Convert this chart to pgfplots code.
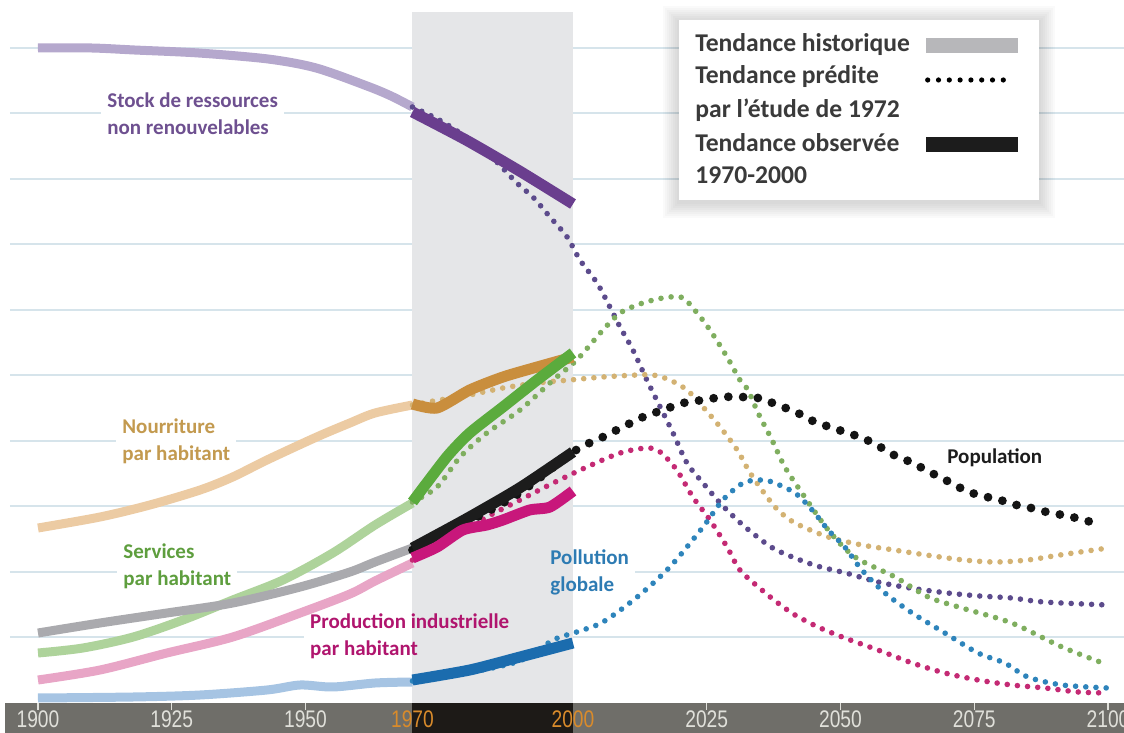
\documentclass[border=0pt]{standalone}
\usepackage{pgfplots}
\pgfplotsset{compat=1.18}
\usepackage{fontspec}
\setmainfont{Carlito}
\newfontfamily\tickfont[FakeStretch=0.8]{Liberation Sans}

\definecolor{gridc}{HTML}{D6E4EB}
\definecolor{bandc}{HTML}{E5E6E8}
\definecolor{stripc}{HTML}{6F6E69}
\definecolor{stripd}{HTML}{1D1A17}
\definecolor{tickc}{HTML}{E0E0DA}
\definecolor{ticko}{HTML}{D98B2B}
\definecolor{legt}{HTML}{3A3A3A}

\definecolor{stockH}{HTML}{B5A8CD}\definecolor{stockO}{HTML}{6A3E8E}\definecolor{stockP}{HTML}{5C4B8C}
\definecolor{foodH}{HTML}{ECCBA3}\definecolor{foodO}{HTML}{C98E3D}\definecolor{foodP}{HTML}{D3B273}
\definecolor{servH}{HTML}{AED39B}\definecolor{servO}{HTML}{5BAB3D}\definecolor{servP}{HTML}{7FAE5F}
\definecolor{popH}{HTML}{AAAAAE}\definecolor{popO}{HTML}{1C1C1C}\definecolor{popP}{HTML}{141414}
\definecolor{prodH}{HTML}{E8A5C6}\definecolor{prodO}{HTML}{C8177B}\definecolor{prodP}{HTML}{C42A74}
\definecolor{pollH}{HTML}{A6C4E3}\definecolor{pollO}{HTML}{1B6CAE}\definecolor{pollP}{HTML}{2E84BB}

\definecolor{stockL}{HTML}{6E5090}
\definecolor{foodL}{HTML}{C39A4F}
\definecolor{servL}{HTML}{5E9E3E}
\definecolor{prodL}{HTML}{B0156E}
\definecolor{pollL}{HTML}{2D7BB3}

\tikzset{
  histline/.style={line width=4.5pt, line cap=butt, line join=round, smooth, tension=0.5},
  obs/.style={line width=5.5pt, line cap=butt, line join=round, smooth, tension=0.4},
  pred/.style={line width=2.8pt, line cap=round, dash pattern=on 0pt off 5.1pt, smooth, tension=0.5},
  lab/.style={font=\fontsize{10.5}{13.5}\selectfont\bfseries, align=left, anchor=west,
    inner xsep=3pt, inner ysep=1pt, xshift=-3pt},
  labbg/.style={lab, fill=white, text=white},
  legtext/.style={font=\fontsize{12.8}{15}\selectfont\bfseries, text=legt, anchor=west, inner sep=0pt},
  ticklab/.style={font=\tickfont\fontsize{12}{13}\selectfont, inner sep=0pt},
}

\begin{document}
\begin{tikzpicture}
\begin{axis}[
    scale only axis,
    width=557pt, height=351.5pt,
    xmin=1894.77, xmax=2102.99,
    ymin=0, ymax=703,
    hide axis,
    clip=false,
]

% grid lines
\pgfplotsinvokeforeach{1,...,10}{
  \draw[gridc, line width=1pt] (axis cs:1894.77,#1*65.5) -- (axis cs:2102.99,#1*65.5);
}

% white boxes behind the labels
\node[labbg] at (axis cs:1912.9,589.5) {Stock de ressources\\non renouvelables};
\node[labbg] at (axis cs:1915.7,262) {Nourriture\\par habitant};
\node[labbg] at (axis cs:1915.9,136.5) {Services\\par habitant};
\node[labbg] at (axis cs:1950.8,67) {Production industrielle\\par habitant};
\node[labbg] at (axis cs:1995.7,130.5) {Pollution\\globale};
\node[labbg] at (axis cs:2069.9,245) {Population};

% 1970-2000 band
\fill[bandc] (axis cs:1970,0) rectangle (axis cs:2000,691);

% bottom strip
\fill[stripc] (axis cs:1893.8,0) rectangle (axis cs:2102.99,-30);
\fill[stripd] (axis cs:1970,0) rectangle (axis cs:2000,-30);

% ---- historical trends ----
\addplot[histline, stockH] coordinates {(1900,655)(1910,655)(1918,653)(1930,650)(1943,644)(1952,635)(1961.5,617)(1966,607)(1970,596)};
\addplot[histline, foodH] coordinates {(1900,175)(1911.6,186)(1920.9,198)(1930.3,213)(1936.4,226)(1942.8,243)(1952.1,266)(1958.3,280)(1963,290)(1970,298)};
\addplot[histline, servH] coordinates {(1900,50)(1908.4,55)(1917.8,66)(1927.1,83)(1936.4,103)(1945.8,123)(1955.1,150)(1963,178)(1970,200)};
\addplot[histline, popH] coordinates {(1900,70)(1911.6,80)(1924.1,90)(1936.4,100)(1949,116)(1958.3,131)(1963,141)(1970,155)};
\addplot[histline, prodH] coordinates {(1900,23)(1911.6,33)(1924.1,50)(1936.4,66)(1949,90)(1958.3,109)(1963,122)(1970,140)};
\addplot[histline, pollH] coordinates {(1900,5)(1917.8,6)(1930.3,8)(1942.8,13)(1949,18)(1955.1,16)(1963,20)(1970,21)};

% ---- predicted trends (1972 study) ----
\addplot[pred, stockP] coordinates {(1970,596)(1975,583)(1980,566)(1985,545)(1989.5,520)(1992.5,506)(1995.7,486)(1998.9,466)(2001.3,443)(2004.5,420)(2006.9,396)(2008.8,376)(2011.2,353)(2013.8,323)(2016.3,296)(2018.7,270)(2021.3,240)(2024.3,220)(2027.5,200)(2030.7,183)(2034,168)(2038,153)(2045,138)(2051,130)(2057,121)(2063,115)(2070,110)(2076,107)(2082,105)(2088,101)(2100,98)};
\addplot[pred, foodP] coordinates {(1970,298)(1975,303)(1978.9,306)(1986.9,315)(1993.3,320)(1999.4,323)(2005.6,326)(2012,328)(2015,328)(2018.1,323)(2021.3,313)(2024.3,296)(2027.5,276)(2030.7,253)(2033,231)(2036,208)(2038.3,193)(2041.5,180)(2047.7,166)(2054,158)(2060,153)(2066,148)(2073,143)(2079,141)(2085,143)(2091,148)(2100,155)};
\addplot[pred, servP] coordinates {(1970,201)(1974.6,216)(1978.9,246)(1983.9,270)(1990.1,293)(1996.3,323)(2000.7,343)(2005.6,373)(2008.8,390)(2012,398)(2015,403)(2018.1,406)(2020.6,405)(2023.2,390)(2025.6,373)(2028.8,346)(2031.2,323)(2032.7,313)(2034.6,290)(2037.2,263)(2039.6,236)(2042.8,210)(2047.7,173)(2052.7,146)(2060.2,126)(2066.4,106)(2072.7,95)(2082,80)(2091.4,56)(2100,38)};
\addplot[pred, prodP] coordinates {(1970,143)(1977.6,166)(1983.9,186)(1990.1,203)(1996.3,220)(2002.6,236)(2008.8,250)(2013.8,255)(2016.3,251)(2019.4,233)(2022.4,206)(2025.6,183)(2028.8,156)(2031.2,133)(2035.3,113)(2038.3,100)(2041.5,88)(2045.8,76)(2050.8,65)(2057,53)(2063.4,40)(2069.5,30)(2075.7,23)(2082,18)(2088.2,15)(2094.4,11)(2100,10)};
\addplot[pred, pollP] coordinates {(1970,22)(1980,30)(1990,42)(1996.3,63)(2000.7,71)(2005.6,81)(2012,106)(2018.1,136)(2024.3,176)(2028,203)(2031.8,220)(2035,223)(2037.2,221)(2041.5,210)(2044.7,193)(2047.7,173)(2050.8,156)(2054,133)(2058.3,110)(2063.4,90)(2069.5,70)(2075.7,50)(2080.7,40)(2085,26)(2091.4,18)(2100,15)};
\addplot[popP, line width=4.4pt, line cap=round, dash pattern=on 0pt off 7.4pt, smooth, tension=0.5] coordinates {(1970,153)(1980,180)(1990,210)(2000,251)(2005.6,266)(2009.3,276)(2013.1,286)(2016.8,293)(2020.6,300)(2024.3,303)(2028,306)(2031.2,306)(2034.6,305)(2037.8,299)(2040.2,294)(2042.8,288)(2045.2,281)(2048,276)(2050.8,271)(2053.6,266)(2056.1,260)(2058.7,252)(2060.7,246)(2063.6,240)(2066.2,232)(2068.6,226)(2071,219)(2073.6,212)(2076.4,207)(2079.3,204)(2082,199)(2084.9,196)(2087.7,192)(2090.5,189)(2093.3,186)(2096.1,182)(2099.1,179)};

% ---- observed trends 1970-2000 ----
\addplot[obs, stockO] coordinates {(1970,591)(1980,563)(1990,532)(2000,499)};
\addplot[obs, foodO] coordinates {(1970,299)(1974.6,295)(1980.7,313)(1986.9,326)(1993.3,336)(2000,346)};
\addplot[obs, servO] coordinates {(1970,201)(1976.4,246)(1980.7,270)(1986.9,296)(1993.3,323)(2000,350)};
\addplot[obs, popO] coordinates {(1970,155)(1980,184)(1990,215)(2000,251)};
\addplot[obs, prodO] coordinates {(1970,145)(1974.6,156)(1979.4,173)(1983.9,178)(1986.9,183)(1991.9,193)(1995.7,196)(2000,212)};
\addplot[obs, pollO] coordinates {(1970,23)(1980.7,33)(1990.1,46)(2000,60)};

% labels
\node[lab, text=stockL] at (axis cs:1912.9,589.5) {Stock de ressources\\non renouvelables};
\node[lab, text=foodL] at (axis cs:1915.7,262) {Nourriture\\par habitant};
\node[lab, text=servL] at (axis cs:1915.9,136.5) {Services\\par habitant};
\node[lab, text=prodL] at (axis cs:1950.8,67) {Production industrielle\\par habitant};
\node[lab, text=pollL] at (axis cs:1995.7,130.5) {Pollution\\globale};
\node[lab, text=popO] at (axis cs:2069.9,245) {Population};

% x tick marks and labels
\pgfplotsinvokeforeach{1900,1925,1950,2025,2050,2075,2100}{
  \draw[tickc, line width=0.6pt] (axis cs:#1,0) -- (axis cs:#1,-7);
  \node[ticklab, text=tickc] at (axis cs:#1,-16) {#1};
}
\node[ticklab, text=ticko] at (axis cs:1970,-16) {1970};
\node[ticklab, text=ticko] at (axis cs:2000,-16) {2000};

% legend box with soft shadow
\pgfplotsinvokeforeach{1,...,8}{
  \fill[black, opacity=0.02] ([shift={(-#1pt,-#1pt-1pt)}]axis cs:2019.8,503) rectangle ([shift={(#1pt,#1pt-1pt)}]axis cs:2087.1,683);
}
\fill[white] (axis cs:2019.8,503) rectangle (axis cs:2087.1,683);
\node[legtext] at (axis cs:2022.8,658) {Tendance historique};
\node[legtext] at (axis cs:2022.8,626) {Tendance prédite};
\node[legtext] at (axis cs:2022.8,593) {par l’étude de 1972};
\node[legtext] at (axis cs:2022.8,560) {Tendance observée};
\node[legtext] at (axis cs:2022.8,528) {1970-2000};
\draw[color=popH!85!white, line width=7.5pt] (axis cs:2066,657.5) -- (axis cs:2083.2,657.5);
\draw[black, line width=2.6pt, line cap=round, dash pattern=on 0pt off 5.4pt] (axis cs:2066.3,623) -- (axis cs:2082.3,623);
\draw[popO, line width=7.5pt] (axis cs:2066,558.5) -- (axis cs:2083.2,558.5);

\end{axis}
\pgfresetboundingbox
\path[use as bounding box] (-5pt,-15pt) rectangle (557pt,351.5pt);
\end{tikzpicture}
\end{document}
